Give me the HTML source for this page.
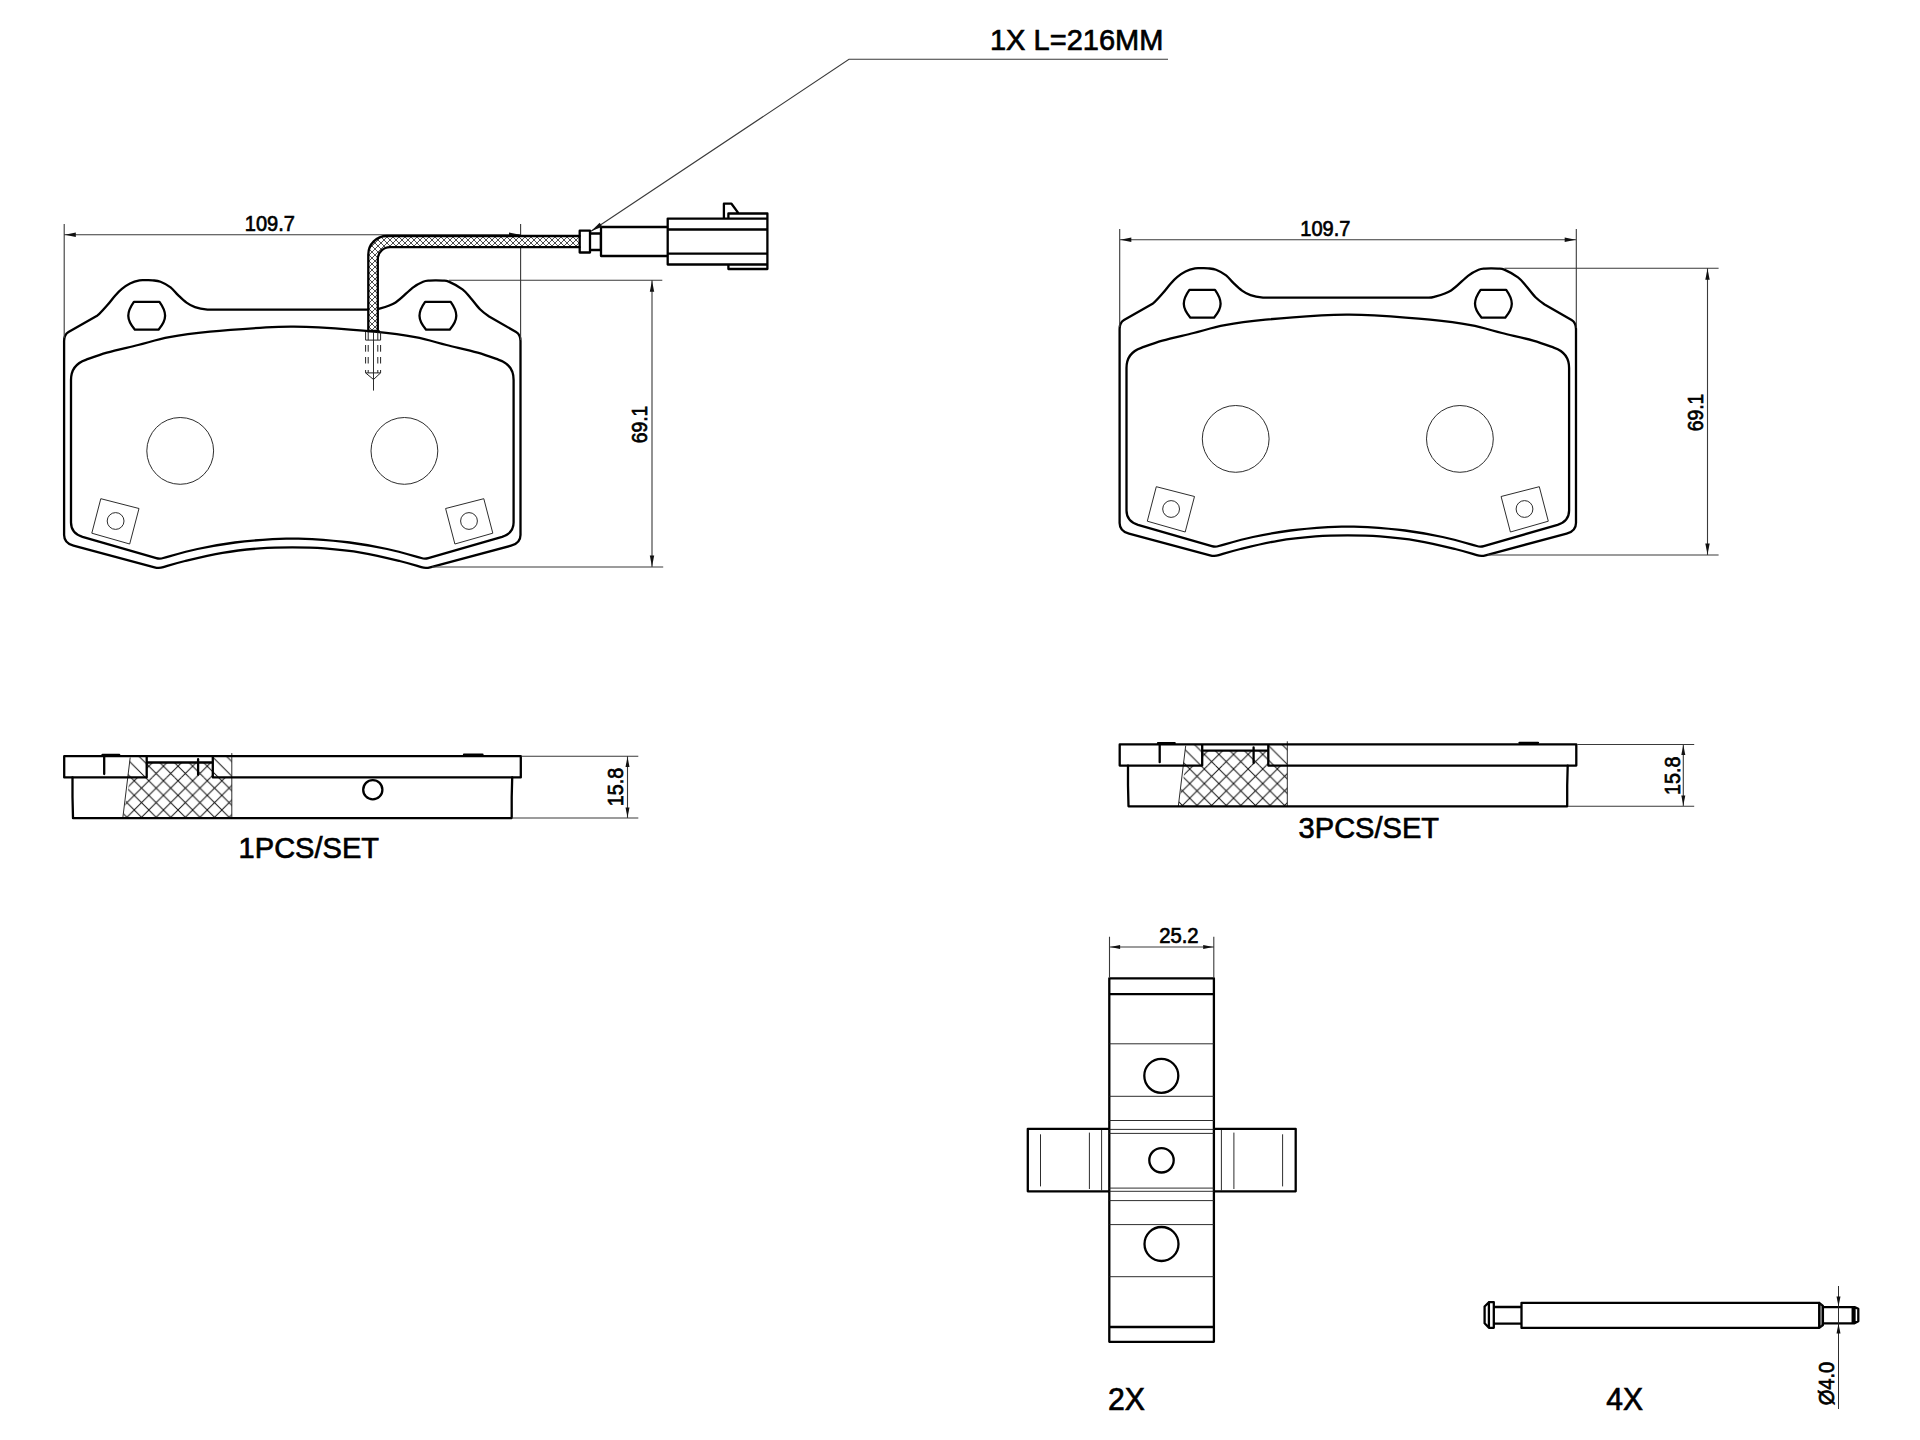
<!DOCTYPE html>
<html><head><meta charset="utf-8"><title>Brake pad drawing</title>
<style>
html,body{margin:0;padding:0;background:#fff;width:1920px;height:1440px;overflow:hidden}
svg{display:block}
.k{fill:none;stroke:#000;stroke-width:2.3;stroke-linejoin:round;stroke-linecap:round}
.k2{fill:none;stroke:#000;stroke-width:2.3;stroke-linejoin:round}
.t{fill:none;stroke:#222;stroke-width:0.95}
.d{fill:none;stroke:#3a3a3a;stroke-width:1.1}
.t2{fill:none;stroke:#222;stroke-width:1}
.a{fill:#111;stroke:none}
text{font-family:"Liberation Sans",sans-serif;fill:#000;stroke:#000;stroke-width:0.7}
</style></head><body>
<svg width="1920" height="1440" viewBox="0 0 1920 1440">
<defs>
<pattern id="hx" patternUnits="userSpaceOnUse" x="2.83" y="6.98" width="14.6" height="14.6">
<path d="M0 0 L14.6 14.6 M-1 13.6 L1 15.6 M13.6 -1 L15.6 1 M0 14.6 L14.6 0 M-1 1 L1 -1 M13.6 15.6 L15.6 13.6" stroke="#111" stroke-width="1" fill="none"/>
</pattern>
<pattern id="hs" patternUnits="userSpaceOnUse" x="2.83" y="6.98" width="14.6" height="14.6">
<path d="M0 0 L14.6 14.6 M-1 13.6 L1 15.6 M13.6 -1 L15.6 1" stroke="#111" stroke-width="1" fill="none"/>
</pattern>
<pattern id="hc" patternUnits="userSpaceOnUse" x="0" y="0" width="6" height="6">
<path d="M0 0 L6 6 M0 6 L6 0" stroke="#222" stroke-width="0.8" fill="none"/>
</pattern>
</defs>
<rect width="1920" height="1440" fill="#fff"/>
<g>
<path class="k" d="M292.3 309.6 L207.5 309.6 C203.75 309.18 198.5 308.27 195 307.1 C191.5 305.93 189.32 304.6 186.5 302.6 C183.68 300.6 180.75 297.65 178.1 295.1 C175.45 292.55 173.53 289.53 170.6 287.3 C167.67 285.07 163.5 282.86 160.5 281.7 C157.5 280.54 155.02 280.6 152.6 280.35 C150.18 280.1 148.18 280.2 146 280.2 C143.82 280.2 142.17 279.8 139.5 280.35 C136.83 280.9 132.93 282.07 130 283.5 C127.07 284.93 124.35 286.92 121.9 288.9 C119.45 290.88 117.75 292.67 115.3 295.4 C112.85 298.13 110.17 301.97 107.2 305.3 C104.23 308.63 100.78 312.77 97.5 315.4 L68.5 332 Q64.1 334.6 64.1 341 L64.1 535 Q64.1 543.2 73.5 545.7 L154.5 567.3 Q158.8 568.6 163.3 567.2 C169.13 565.45 175.13 563.4 185 561 C194.87 558.6 210 554.9 222.5 552.8 C235 550.7 248.37 549.32 260 548.4 C271.63 547.48 281.53 547.3 292.3 547.3 C303.07 547.3 312.97 547.48 324.6 548.4 C336.23 549.32 349.6 550.7 362.1 552.8 C374.6 554.9 389.73 558.6 399.6 561 C409.47 563.4 415.47 565.45 421.3 567.2 Q425.8 568.6 430.1 567.3 L511.1 545.7 Q520.5 543.2 520.5 535 L520.5 341 Q520.5 334.6 516.1 332 L489.1 316.5 C485.92 314.35 483.08 312.38 480 309.3 C476.92 306.22 473.52 301.33 470.6 298 C467.68 294.67 466.14 292.03 462.5 289.3 C458.86 286.57 452.07 283.05 448.75 281.6 C445.43 280.15 444.71 280.8 442.6 280.6 C440.49 280.4 438.27 280.4 436.1 280.4 C433.93 280.4 431.77 280.37 429.6 280.6 C427.43 280.83 425.95 280.6 423.1 281.8 C420.25 283 417.08 284.37 412.5 287.8 C407.92 291.23 401.23 298.9 395.6 302.4 C389.98 305.9 382.92 307.6 378.75 308.8 C374.58 310 373.62 309.47 370.6 309.6 L292.3 309.6 Z"/>
<path class="k" d="M292.3 326.6 C283.53 326.6 279.72 326.55 266 327.4 C252.28 328.25 226.1 330.07 210 331.7 C193.9 333.33 181.38 334.98 169.4 337.2 C157.42 339.42 148.52 342.43 138.1 345 C127.68 347.57 115.62 350.13 106.9 352.6 C98.18 355.07 91.12 357.9 85.8 359.8 C77.8 362.5 71 368 71 380 L71 522.5 C71 530 75.5 534.6 82.5 536.9 L156.3 558.1 Q159.8 559.1 163.3 558 C171.22 555.83 185.55 551.58 197.5 549 C209.45 546.42 222.5 544.15 235 542.5 C247.5 540.85 262.95 539.73 272.5 539.1 C282.05 538.47 285.7 538.7 292.3 538.7 C298.9 538.7 302.55 538.47 312.1 539.1 C321.65 539.73 337.1 540.85 349.6 542.5 C362.1 544.15 375.15 546.42 387.1 549 C399.05 551.58 413.38 555.83 421.3 558 Q424.8 559.1 428.3 558.1 L502.1 536.9 C509.1 534.6 513.6 530 513.6 522.5 L513.6 380 C513.6 368 506.8 362.5 498.8 359.8 C493.48 357.9 486.42 355.07 477.7 352.6 C468.98 350.13 456.92 347.57 446.5 345 C436.08 342.43 427.18 339.42 415.2 337.2 C403.22 334.98 390.7 333.33 374.6 331.7 C358.5 330.07 332.32 328.25 318.6 327.4 C304.88 326.55 301.07 326.6 292.3 326.6 Z"/>
<path class="k2" d="M133.9 301.9 L159.5 301.9 C163.3 307.2 165.1 311.3 165.1 315.8 C165.1 320.3 162.9 324.6 158.5 329.7 L134.9 329.7 C130.5 324.6 128.3 320.3 128.3 315.8 C128.3 311.3 130.1 307.2 133.9 301.9 Z"/>
<path class="k2" d="M425.1 301.9 L450.7 301.9 C454.5 307.2 456.3 311.3 456.3 315.8 C456.3 320.3 454.1 324.6 449.7 329.7 L426.1 329.7 C421.7 324.6 419.5 320.3 419.5 315.8 C419.5 311.3 421.3 307.2 425.1 301.9 Z"/>
<circle class="t" cx="180.2" cy="450.9" r="33.4"/>
<circle class="t" cx="404.4" cy="450.9" r="33.4"/>
<path class="t" d="M100.8 498.7 L139 508.5 L129.7 544 L91.8 533.2 Z"/>
<path class="t" d="M483.8 498.7 L445.6 508.5 L454.9 544 L492.8 533.2 Z"/>
<circle class="t" cx="115.6" cy="521" r="8.4"/>
<circle class="t" cx="469" cy="521" r="8.4"/>
</g>
<g transform="translate(1055.5 -12)">
<path class="k" d="M292.3 309.6 L207.5 309.6 C203.75 309.18 198.5 308.27 195 307.1 C191.5 305.93 189.32 304.6 186.5 302.6 C183.68 300.6 180.75 297.65 178.1 295.1 C175.45 292.55 173.53 289.53 170.6 287.3 C167.67 285.07 163.5 282.86 160.5 281.7 C157.5 280.54 155.02 280.6 152.6 280.35 C150.18 280.1 148.18 280.2 146 280.2 C143.82 280.2 142.17 279.8 139.5 280.35 C136.83 280.9 132.93 282.07 130 283.5 C127.07 284.93 124.35 286.92 121.9 288.9 C119.45 290.88 117.75 292.67 115.3 295.4 C112.85 298.13 110.17 301.97 107.2 305.3 C104.23 308.63 100.78 312.77 97.5 315.4 L68.5 332 Q64.1 334.6 64.1 341 L64.1 535 Q64.1 543.2 73.5 545.7 L154.5 567.3 Q158.8 568.6 163.3 567.2 C169.13 565.45 175.13 563.4 185 561 C194.87 558.6 210 554.9 222.5 552.8 C235 550.7 248.37 549.32 260 548.4 C271.63 547.48 281.53 547.3 292.3 547.3 C303.07 547.3 312.97 547.48 324.6 548.4 C336.23 549.32 349.6 550.7 362.1 552.8 C374.6 554.9 389.73 558.6 399.6 561 C409.47 563.4 415.47 565.45 421.3 567.2 Q425.8 568.6 430.1 567.3 L511.1 545.7 Q520.5 543.2 520.5 535 L520.5 341 Q520.5 334.6 516.1 332 L489.1 316.5 C485.92 314.35 483.08 312.38 480 309.3 C476.92 306.22 473.52 301.33 470.6 298 C467.68 294.67 466.14 292.03 462.5 289.3 C458.86 286.57 452.07 283.05 448.75 281.6 C445.43 280.15 444.71 280.8 442.6 280.6 C440.49 280.4 438.27 280.4 436.1 280.4 C433.93 280.4 431.77 280.37 429.6 280.6 C427.43 280.83 425.95 280.6 423.1 281.8 C420.25 283 417.08 284.37 412.5 287.8 C407.92 291.23 401.23 298.9 395.6 302.4 C389.98 305.9 382.92 307.6 378.75 308.8 C374.58 310 373.62 309.47 370.6 309.6 L292.3 309.6 Z"/>
<path class="k" d="M292.3 326.6 C283.53 326.6 279.72 326.55 266 327.4 C252.28 328.25 226.1 330.07 210 331.7 C193.9 333.33 181.38 334.98 169.4 337.2 C157.42 339.42 148.52 342.43 138.1 345 C127.68 347.57 115.62 350.13 106.9 352.6 C98.18 355.07 91.12 357.9 85.8 359.8 C77.8 362.5 71 368 71 380 L71 522.5 C71 530 75.5 534.6 82.5 536.9 L156.3 558.1 Q159.8 559.1 163.3 558 C171.22 555.83 185.55 551.58 197.5 549 C209.45 546.42 222.5 544.15 235 542.5 C247.5 540.85 262.95 539.73 272.5 539.1 C282.05 538.47 285.7 538.7 292.3 538.7 C298.9 538.7 302.55 538.47 312.1 539.1 C321.65 539.73 337.1 540.85 349.6 542.5 C362.1 544.15 375.15 546.42 387.1 549 C399.05 551.58 413.38 555.83 421.3 558 Q424.8 559.1 428.3 558.1 L502.1 536.9 C509.1 534.6 513.6 530 513.6 522.5 L513.6 380 C513.6 368 506.8 362.5 498.8 359.8 C493.48 357.9 486.42 355.07 477.7 352.6 C468.98 350.13 456.92 347.57 446.5 345 C436.08 342.43 427.18 339.42 415.2 337.2 C403.22 334.98 390.7 333.33 374.6 331.7 C358.5 330.07 332.32 328.25 318.6 327.4 C304.88 326.55 301.07 326.6 292.3 326.6 Z"/>
<path class="k2" d="M133.9 301.9 L159.5 301.9 C163.3 307.2 165.1 311.3 165.1 315.8 C165.1 320.3 162.9 324.6 158.5 329.7 L134.9 329.7 C130.5 324.6 128.3 320.3 128.3 315.8 C128.3 311.3 130.1 307.2 133.9 301.9 Z"/>
<path class="k2" d="M425.1 301.9 L450.7 301.9 C454.5 307.2 456.3 311.3 456.3 315.8 C456.3 320.3 454.1 324.6 449.7 329.7 L426.1 329.7 C421.7 324.6 419.5 320.3 419.5 315.8 C419.5 311.3 421.3 307.2 425.1 301.9 Z"/>
<circle class="t" cx="180.2" cy="450.9" r="33.4"/>
<circle class="t" cx="404.4" cy="450.9" r="33.4"/>
<path class="t" d="M100.8 498.7 L139 508.5 L129.7 544 L91.8 533.2 Z"/>
<path class="t" d="M483.8 498.7 L445.6 508.5 L454.9 544 L492.8 533.2 Z"/>
<circle class="t" cx="115.6" cy="521" r="8.4"/>
<circle class="t" cx="469" cy="521" r="8.4"/>
</g>
<path class="d" d="M64.2 224 L64.2 338 M520.6 224 L520.6 340 M64.2 234.7 L520.6 234.7"/>
<path class="a" d="M64.8 234.7 L75.8 232.5 L75.8 236.9 Z"/>
<path class="a" d="M520 234.7 L509 236.9 L509 232.5 Z"/>
<path class="d" d="M449 280.2 L662.3 280.2 M432 567 L663.2 567 M652 280.2 L652 567"/>
<path class="a" d="M652 280.8 L654.2 291.8 L649.8 291.8 Z"/>
<path class="a" d="M652 566.4 L649.8 555.4 L654.2 555.4 Z"/>
<path class="d" d="M1119.7 229 L1119.7 327 M1576.3 229 L1576.3 328 M1119.7 239.7 L1576.3 239.7"/>
<path class="a" d="M1120.3 239.7 L1131.3 237.5 L1131.3 241.9 Z"/>
<path class="a" d="M1575.7 239.7 L1564.7 241.9 L1564.7 237.5 Z"/>
<path class="d" d="M1504.5 268.2 L1718.6 268.2 M1487.5 555 L1718.6 555 M1707.5 268.2 L1707.5 555"/>
<path class="a" d="M1707.5 268.8 L1709.7 279.8 L1705.3 279.8 Z"/>
<path class="a" d="M1707.5 554.4 L1705.3 543.4 L1709.7 543.4 Z"/>
<path fill="#fff" d="M368.3 331 L368.3 254.5 A18.5 18.5 0 0 1 386.8 236 L579.5 236 L579.5 247.2 L390 247.2 A12.2 12.2 0 0 0 377.8 259.4 L377.8 331 Z"/>
<path fill="url(#hc)" d="M368.3 331 L368.3 254.5 A18.5 18.5 0 0 1 386.8 236 L579.5 236 L579.5 247.2 L390 247.2 A12.2 12.2 0 0 0 377.8 259.4 L377.8 331 Z"/>
<path class="k" d="M368.3 331 L368.3 254.5 A18.5 18.5 0 0 1 386.8 236 L579.5 236 M579.5 247.2 L390 247.2 A12.2 12.2 0 0 0 377.8 259.4 L377.8 331 M367.5 331 L378.6 331"/>
<path class="t" d="M373.5 332 L373.5 390.6"/>
<path class="t2" d="M365.6 332 L365.6 340.1 L380.6 340.1 L380.6 332 M368.2 332 L368.2 340.1 M377.8 332 L377.8 340.1 M365.6 345 L365.6 351.7 M368.2 345 L368.2 351.7 M377.8 345 L377.8 351.7 M380.6 345 L380.6 351.7 M365.6 357 L365.6 363.5 M368.2 357 L368.2 363.5 M377.8 357 L377.8 363.5 M380.6 357 L380.6 363.5 M365.6 370 L365.6 372.9 L380.6 372.9 L380.6 370 M368.2 370 L368.2 372.9 M377.8 370 L377.8 372.9 M365.6 372.9 L373.5 379.5 L380.6 372.9"/>
<path class="k" d="M579.7 230.7 L590 230.7 L590 252.5 L579.7 252.5 Z M590 233.5 L600.8 233.5 L600.8 250 L590 250 M601 227 L667.7 227 L667.7 256 L601 256 Z M667.7 218.6 L767.4 218.6 L767.4 264.5 L667.7 264.5 Z M667.7 229.5 L767.4 229.5 M667.7 253.6 L767.4 253.6 M723.9 218.6 L723.9 203.7 L731.5 203.7 L738.2 212.9 M728.4 218.6 L728.4 213.5 L767.4 213.5 L767.4 218.6 M728.4 264.5 L728.4 269 L767.4 269 L767.4 264.5"/>
<path class="d" d="M1168 59.3 L849 59.3 L591 231.3"/>
<path class="a" d="M591 231.3 L599.67 222.66 L602.32 226.66 Z"/>
<g>
<path fill="url(#hx)" d="M122.8 818 L130.2 777.4 L231.8 777.4 L231.8 818 Z"/>
<path fill="url(#hx)" d="M146.7 762.5 L212.8 762.5 L212.8 777.4 L146.7 777.4 Z"/>
<path fill="url(#hs)" d="M130.2 756.2 L146.7 756.2 L146.7 777.4 L127.5 777.4 Z"/>
<path fill="url(#hs)" d="M212.8 756.2 L231.8 756.2 L231.8 777.4 L212.8 777.4 Z"/>
<path class="t" d="M130.2 757.5 L122.8 818 M231.8 753.1 L231.8 818"/>
<path class="k" d="M64.2 756.2 L520.8 756.2 L520.8 777.4 L212.8 777.4 L212.8 756.2 M212.8 762.5 L146.7 762.5 M146.7 756.2 L146.7 777.4 L64.2 777.4 L64.2 756.2"/>
<path class="k" d="M72.5 777.4 L72.5 797 L73 818.1 L511.7 818.1 L511.7 797 L512.2 777.4"/>
<path class="k" d="M104.2 755 L104.2 774 M102.5 755 L119.2 755 M198.1 759.2 L198.1 774.8 M464 754.6 L482.5 754.6"/>
<circle class="k" cx="372.8" cy="789.7" r="9.6"/>
</g>
<g transform="translate(1055.5 -11.8)">
<path fill="url(#hx)" d="M122.8 818 L130.2 777.4 L231.8 777.4 L231.8 818 Z"/>
<path fill="url(#hx)" d="M146.7 762.5 L212.8 762.5 L212.8 777.4 L146.7 777.4 Z"/>
<path fill="url(#hs)" d="M130.2 756.2 L146.7 756.2 L146.7 777.4 L127.5 777.4 Z"/>
<path fill="url(#hs)" d="M212.8 756.2 L231.8 756.2 L231.8 777.4 L212.8 777.4 Z"/>
<path class="t" d="M130.2 757.5 L122.8 818 M231.8 753.1 L231.8 818"/>
<path class="k" d="M64.2 756.2 L520.8 756.2 L520.8 777.4 L212.8 777.4 L212.8 756.2 M212.8 762.5 L146.7 762.5 M146.7 756.2 L146.7 777.4 L64.2 777.4 L64.2 756.2"/>
<path class="k" d="M72.5 777.4 L72.5 797 L73 818.1 L511.7 818.1 L511.7 797 L512.2 777.4"/>
<path class="k" d="M104.2 755 L104.2 774 M102.5 755 L119.2 755 M198.1 759.2 L198.1 774.8 M464 754.6 L482.5 754.6"/>
</g>
<path class="d" d="M521.7 756.3 L638.3 756.3 M512.5 818 L638.3 818 M627.5 756.3 L627.5 818"/>
<path class="a" d="M627.5 756.9 L629.5 766.9 L625.5 766.9 Z"/>
<path class="a" d="M627.5 817.4 L625.5 807.4 L629.5 807.4 Z"/>
<path class="d" d="M1577.2 744.5 L1694.2 744.5 M1568 806.2 L1694.2 806.2 M1683.3 744.5 L1683.3 806.2"/>
<path class="a" d="M1683.3 745.1 L1685.3 755.1 L1681.3 755.1 Z"/>
<path class="a" d="M1683.3 805.6 L1681.3 795.6 L1685.3 795.6 Z"/>
<path class="k" d="M1109.3 978.3 L1213.9 978.3 L1213.9 1341.8 L1109.3 1341.8 Z M1109.3 994.2 L1213.9 994.2 M1109.3 1327 L1213.9 1327 M1027.8 1128.8 L1109.3 1128.8 L1109.3 1191.3 L1027.8 1191.3 Z M1213.9 1128.8 L1295.7 1128.8 L1295.7 1191.3 L1213.9 1191.3 Z"/>
<path class="t" d="M1109.3 1043.8 L1213.9 1043.8 M1109.3 1096.3 L1213.9 1096.3 M1109.3 1120.5 L1213.9 1120.5 M1109.3 1129.4 L1213.9 1129.4 M1109.3 1133.4 L1213.9 1133.4 M1109.3 1188.1 L1213.9 1188.1 M1109.3 1191.3 L1213.9 1191.3 M1109.3 1200.6 L1213.9 1200.6 M1109.3 1224.6 L1213.9 1224.6 M1109.3 1276.7 L1213.9 1276.7 M1040.5 1134.3 L1040.5 1186.4 M1089.4 1132.6 L1089.4 1189 M1101.6 1130 L1101.6 1190.5 M1221.4 1130 L1221.4 1190.5 M1233.9 1132.6 L1233.9 1189 M1282.6 1134.3 L1282.6 1186.4"/>
<circle class="k2" cx="1161.3" cy="1075.8" r="17"/>
<circle class="k2" cx="1161.5" cy="1160.3" r="12.2"/>
<circle class="k2" cx="1161.5" cy="1244" r="17"/>
<path class="d" d="M1109.5 936.7 L1109.5 978 M1213.8 936.7 L1213.8 978 M1109.5 947 L1213.8 947"/>
<path class="a" d="M1110.1 947 L1120.1 945 L1120.1 949 Z"/>
<path class="a" d="M1213.2 947 L1203.2 949 L1203.2 945 Z"/>
<path class="k" d="M1521.5 1302.8 L1819.2 1302.8 L1819.2 1327.9 L1521.5 1327.9 Z M1819.2 1302.8 L1822.9 1305.8 L1822.9 1325 L1819.2 1327.9 M1822.9 1307.1 L1852.7 1307.1 L1852.7 1323.3 L1822.9 1323.3 M1852.7 1307.1 L1854.5 1307.1 L1858.3 1308.8 L1858.3 1321.3 L1854.5 1323.3 L1852.7 1323.3 M1854.5 1307.1 L1854.5 1323.3 M1493.8 1302.2 L1488.9 1302.2 L1484.6 1306.5 L1484.6 1323.3 L1488.9 1327.8 L1493.8 1327.8 Z M1488.9 1302.2 L1488.9 1327.8 M1493.8 1307 L1521.5 1307 M1493.8 1323.7 L1521.5 1323.7"/>
<path class="t" d="M1838.5 1286 L1838.5 1409 M1821 1304 L1821 1326.5"/>
<path class="a" d="M1838.5 1306.6 L1836.5 1296.6 L1840.5 1296.6 Z"/>
<path class="a" d="M1838.5 1323.6 L1840.5 1333.6 L1836.5 1333.6 Z"/>
<text transform="translate(1076.7 38.98) scale(0.9550 1)" x="0" y="10.94" font-size="30.4" text-anchor="middle">1X L=216MM</text>
<text transform="translate(269.9 222.7) scale(0.8900 1)" x="0" y="8.1" font-size="22.5" text-anchor="middle">109.7</text>
<text transform="translate(1325.35 227.7) scale(0.8900 1)" x="0" y="8.1" font-size="22.5" text-anchor="middle">109.7</text>
<text transform="translate(639 424.45) rotate(-90) scale(0.8600 1)" x="0" y="8.1" font-size="22.5" text-anchor="middle">69.1</text>
<text transform="translate(1695 412.45) rotate(-90) scale(0.8600 1)" x="0" y="8.1" font-size="22.5" text-anchor="middle">69.1</text>
<text transform="translate(615 787) rotate(-90) scale(0.8800 1)" x="0" y="8.1" font-size="22.5" text-anchor="middle">15.8</text>
<text transform="translate(1671.7 775.7) rotate(-90) scale(0.8800 1)" x="0" y="8.1" font-size="22.5" text-anchor="middle">15.8</text>
<text transform="translate(308.82 847.5) scale(0.9590 1)" x="0" y="10.91" font-size="30.3" text-anchor="middle">1PCS/SET</text>
<text transform="translate(1368.83 826.95) scale(0.9590 1)" x="0" y="10.91" font-size="30.3" text-anchor="middle">3PCS/SET</text>
<text transform="translate(1178.85 935.05) scale(0.9200 1)" x="0" y="7.92" font-size="22" text-anchor="middle">25.2</text>
<text transform="translate(1126.5 1398.65) scale(0.9650 1)" x="0" y="11.27" font-size="31.3" text-anchor="middle">2X</text>
<text transform="translate(1624.7 1398.9) scale(0.9600 1)" x="0" y="11.27" font-size="31.3" text-anchor="middle">4X</text>
<text transform="translate(1826.2 1383.5) rotate(-90) scale(0.9300 1)" x="0" y="7.78" font-size="21.6" text-anchor="middle">&#216;4.0</text>
</svg>
</body></html>
